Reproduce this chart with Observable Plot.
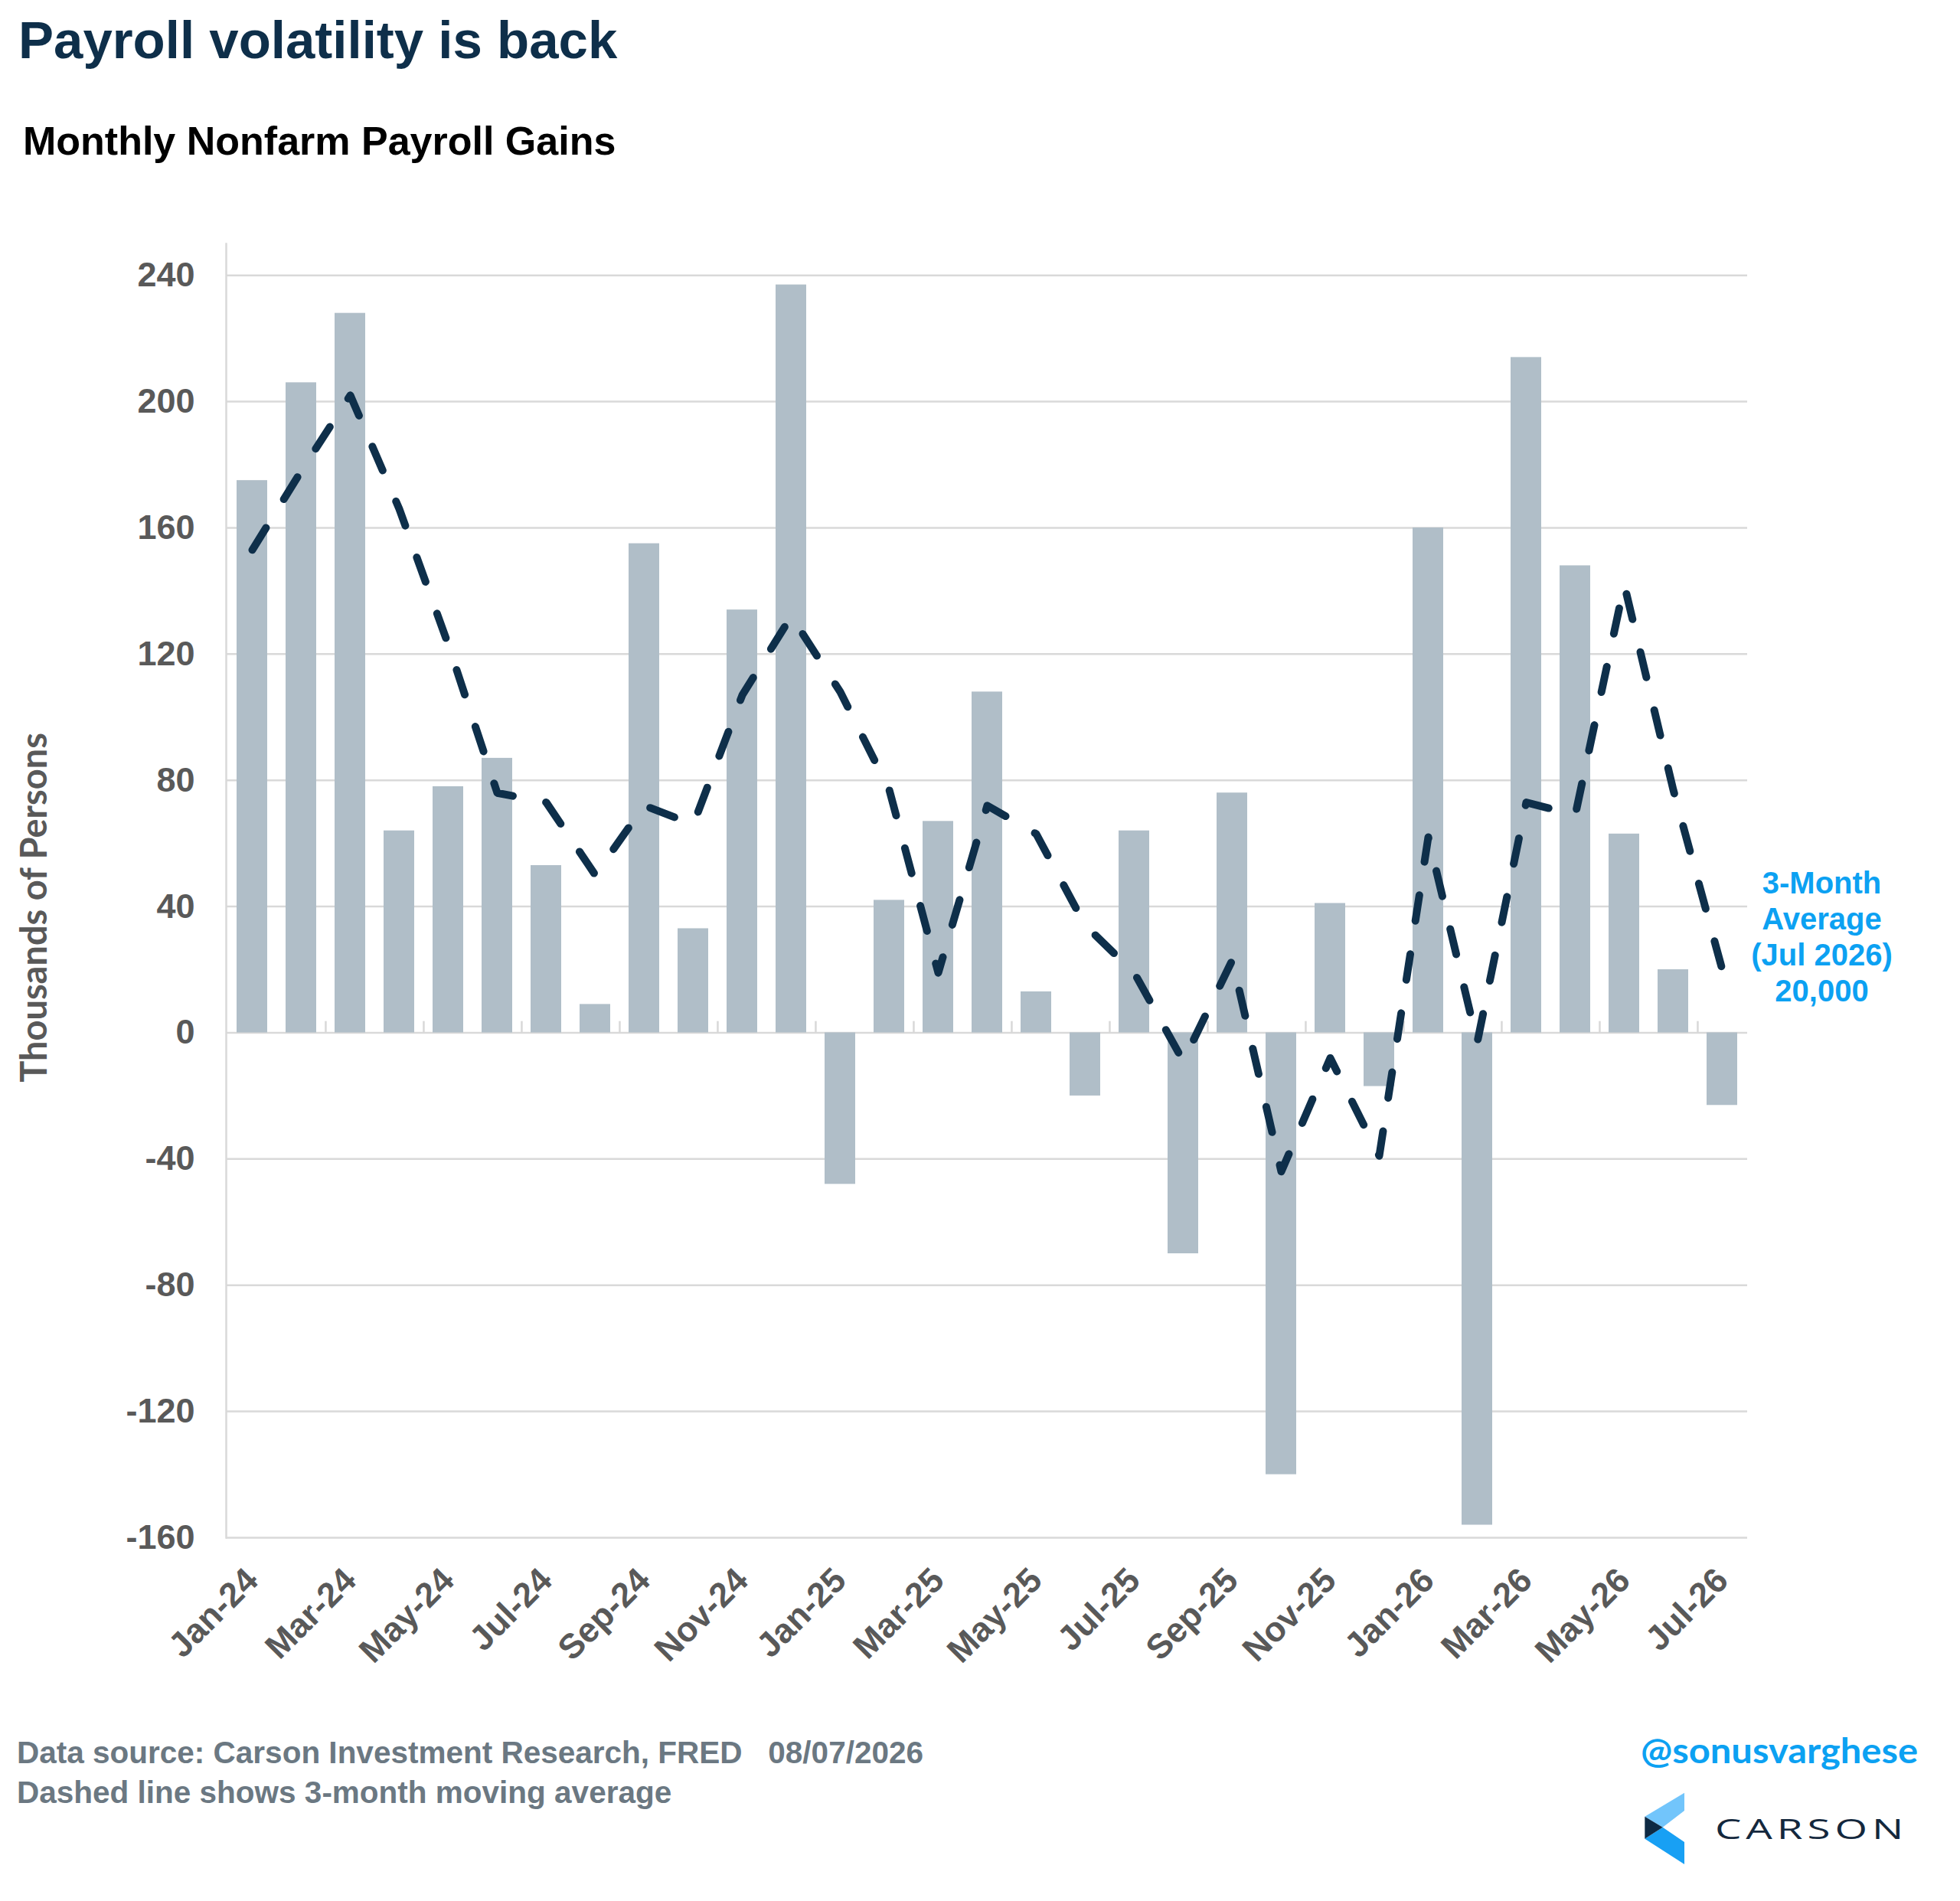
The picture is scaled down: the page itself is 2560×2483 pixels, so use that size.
<!DOCTYPE html>
<html>
<head>
<meta charset="utf-8">
<script src="https://cdn.jsdelivr.net/npm/d3@7"></script>
<script src="https://cdn.jsdelivr.net/npm/@observablehq/plot@0.6"></script>
<style>
  html, body { margin: 0; padding: 0; background: #ffffff; }
  #wrap { position: relative; width: 2560px; height: 2483px; overflow: hidden; font-family: "Liberation Sans", Arial, sans-serif; }
  #title { position: absolute; left: 24px; top: 18px; font-size: 69px; line-height: 69px; font-weight: bold; color: #0e2f4a; white-space: nowrap; }
  #subtitle { position: absolute; left: 30px; top: 158px; font-size: 52px; line-height: 52px; font-weight: bold; color: #000000; white-space: nowrap; }
  #chart { position: absolute; left: 0; top: 240px; }
  #footer { position: absolute; left: 22px; top: 2263px; font-size: 40.5px; line-height: 52px; font-weight: bold; color: #6b7882; white-space: pre; }
  #brand { position: absolute; left: 2100px; top: 2250px; }
</style>
</head>
<body>
<div id="wrap">
  <div id="title">Payroll volatility is back</div>
  <div id="subtitle">Monthly Nonfarm Payroll Gains</div>
  <div id="chart"></div>
  <div id="footer">Data source: Carson Investment Research, FRED   08/07/2026
Dashed line shows 3-month moving average</div>
  <svg id="brand" width="460" height="233" viewBox="0 0 460 233">
    <text x="43" y="53" font-family="Lato, 'Open Sans', sans-serif" font-weight="700" font-size="46" fill="#0ca1f2" textLength="362" lengthAdjust="spacingAndGlyphs">@sonusvarghese</text>
    <polygon points="48.3,122.7 100,91.7 100,115 71.7,136.7" fill="#72c5fb"/>
    <polygon points="48.3,151.7 71.7,136.7 100,156 100,185" fill="#18a0f4"/>
    <polygon points="48.3,122.7 71.7,136.7 48.3,151.7" fill="#0e2a44"/>
    <text x="140" y="151.7" font-family="'Open Sans', sans-serif" font-weight="500" font-size="37" letter-spacing="4" fill="#14283d" textLength="252" lengthAdjust="spacingAndGlyphs">CARSON</text>
  </svg>
</div>
<script>
// ---- Data (thousands of persons) ----
const months = [
  "Jan-24","Feb-24","Mar-24","Apr-24","May-24","Jun-24","Jul-24","Aug-24","Sep-24","Oct-24","Nov-24","Dec-24",
  "Jan-25","Feb-25","Mar-25","Apr-25","May-25","Jun-25","Jul-25","Aug-25","Sep-25","Oct-25","Nov-25","Dec-25",
  "Jan-26","Feb-26","Mar-26","Apr-26","May-26","Jun-26","Jul-26"
];
const payrollGains = [
  175, 206, 228, 64, 78, 87, 53, 9, 155, 33, 134, 237,
  -48, 42, 67, 108, 13, -20, 64, -70, 76, -140, 41, -17,
  160, -156, 214, 148, 63, 20, -23
];
const movingAverage3m = [
  153, 178, 202, 166, 123, 76, 73, 50, 72, 66, 107, 132,
  108, 77, 19, 72, 63, 34, 19, -9, 23, -44, -8, -39,
  62, -3, 73, 69, 142, 77, 20
];
const yTicks = [-160, -120, -80, -40, 0, 40, 80, 120, 160, 200, 240];
const xTickLabels = ["Jan-24","Mar-24","May-24","Jul-24","Sep-24","Nov-24","Jan-25","Mar-25","May-25","Jul-25","Sep-25","Nov-25","Jan-26","Mar-26","May-26","Jul-26"];
const annotationLines = ["3-Month", "Average", "(Jul 2026)"];
const yAxisTitle = "Thousands of Persons";

// ---- Build table ----
const rows = months.map((m, i) => ({month: m, value: payrollGains[i], avg: movingAverage3m[i]}));
const last = rows[rows.length - 1];
const annotation = [{...last, label: annotationLines.join("\n") + "\n" + d3.format(",")(Math.round(last.avg * 1000))}];

const W = 2560, H = 1960;
const mL = 295, mR = 278, mT = 78, mB = 192;
const step = (W - mL - mR) / months.length;
const minorTickMonths = xTickLabels.slice(1);

const chart = Plot.plot({
  width: W,
  height: H,
  marginLeft: mL,
  marginRight: mR,
  marginTop: mT,
  marginBottom: mB,
  style: {
    fontFamily: "'Liberation Sans', Arial, sans-serif",
    fontSize: "45px",
    fontWeight: "bold",
    color: "#595959",
    background: "#ffffff",
    overflow: "visible"
  },
  x: {type: "band", domain: months, paddingInner: 0.38, paddingOuter: 0.19, align: 0.5},
  y: {domain: [-160, 250]},
  marks: [
    Plot.gridY(yTicks, {stroke: "#d9d9d9", strokeOpacity: 1, strokeWidth: 2.5}),
    Plot.frame({anchor: "left", stroke: "#d9d9d9", strokeOpacity: 1, strokeWidth: 2.5}),
    Plot.ruleX(minorTickMonths, {x: d => d, y1: 0, y2: 3.6, dx: -step / 2, stroke: "#d9d9d9", strokeWidth: 2.5}),
    Plot.barY(rows, {x: "month", y: "value", fill: "#b0bec8"}),
    Plot.line(rows, {
      x: "month", y: "avg",
      stroke: "#0e2f4a", strokeWidth: 10,
      strokeDasharray: "34 44", strokeLinecap: "round", strokeLinejoin: "round"
    }),
    Plot.axisY(yTicks, {tickSize: 0, tickPadding: 41, label: null, tickFormat: d => String(d), fill: "#595959", fontSize: 45, fontWeight: "bold"}),
    Plot.axisX(xTickLabels, {tickSize: 0, tickRotate: -45, tickPadding: 48, label: null, fill: "#595959", fontSize: 45, fontWeight: "bold"}),
    Plot.text([yAxisTitle], {
      frameAnchor: "left", text: d => d, rotate: -90, textAnchor: "middle", dx: -250, dy: 22,
      fontFamily: "Lato, 'Open Sans', sans-serif", fontWeight: "bold", fontSize: 47, fill: "#595959"
    }),
    Plot.text(annotation, {
      x: "month", y: "avg", text: "label", dx: 130, dy: -44,
      fill: "#0ca1f2", fontSize: 40, fontWeight: "bold", lineHeight: 1.18, textAnchor: "middle"
    })
  ]
});
document.getElementById("chart").appendChild(chart);
</script>
</body>
</html>
